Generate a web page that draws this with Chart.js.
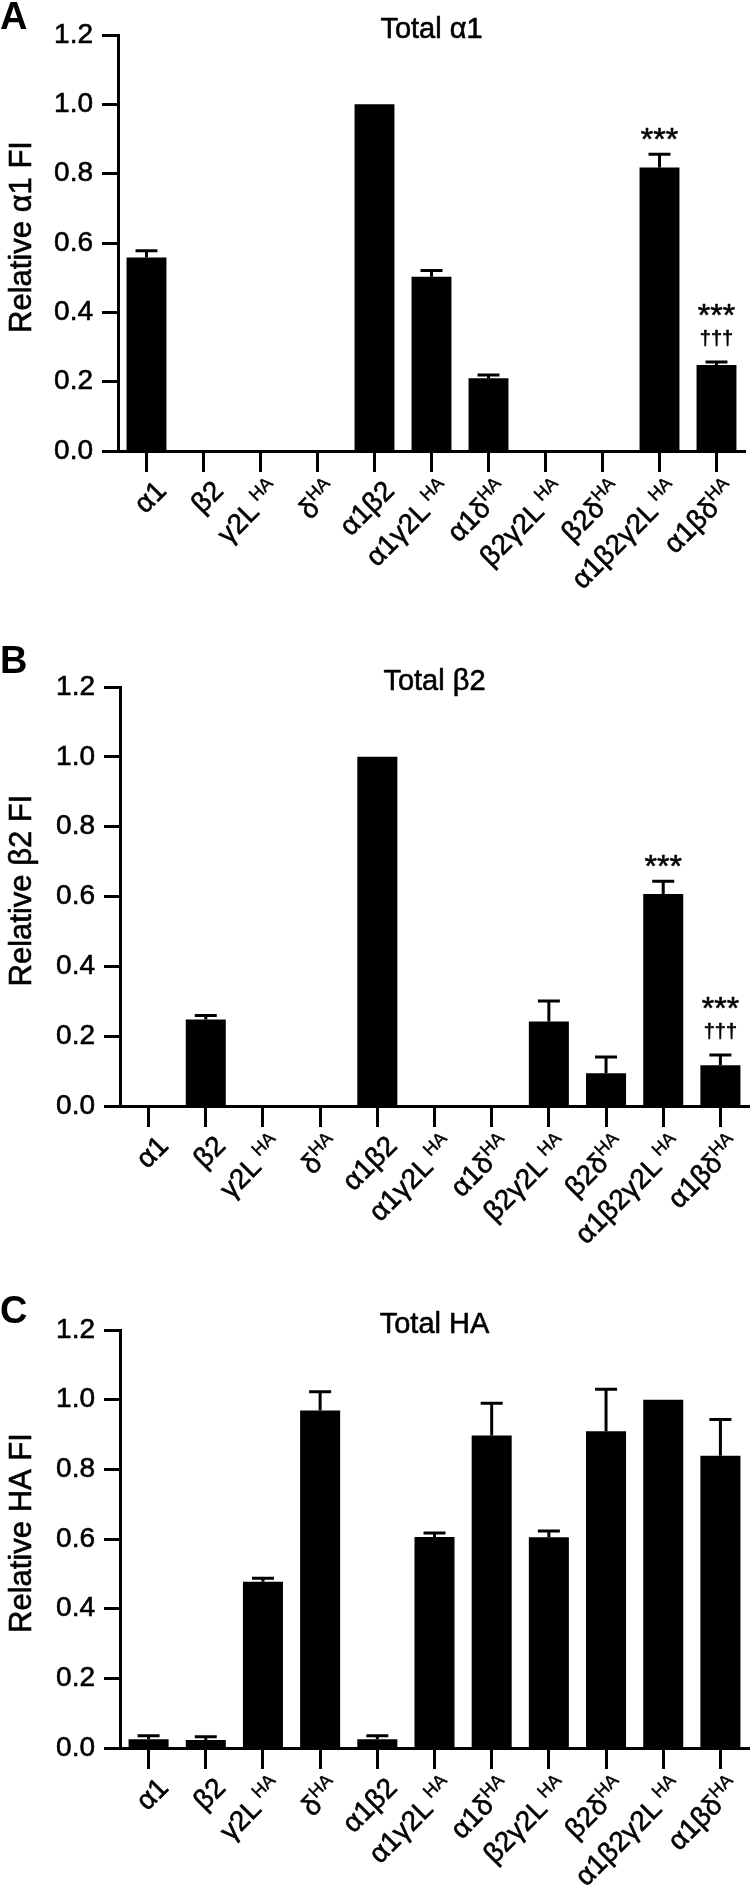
<!DOCTYPE html>
<html>
<head>
<meta charset="utf-8">
<script src="https://cdn.jsdelivr.net/npm/chart.js@4.4.1/dist/chart.umd.min.js"></script>
<style>
  html, body { margin: 0; padding: 0; background: #fff; }
  body { width: 750px; height: 1893px; overflow: hidden; position: relative; }
  .panel { position: absolute; left: 0; width: 750px; }
</style>
</head>
<body>
<div class="panel" id="boxA"><canvas id="chartA"></canvas></div>
<div class="panel" id="boxB"><canvas id="chartB"></canvas></div>
<div class="panel" id="boxC"><canvas id="chartC"></canvas></div>
<script>
// categories, drawn as main text + superscript
const categories = ['α1', 'β2', 'γ2L', 'δ', 'α1β2', 'α1γ2L', 'α1δ', 'β2γ2L', 'β2δ', 'α1β2γ2L', 'α1βδ'];
const superscripts = ['', '', ' HA', 'HA', '', ' HA', 'HA', ' HA', 'HA', ' HA', 'HA'];

// y axis ticks
const yMin = 0, yMax = 1.2, yStep = 0.2;

// Total α1
const alpha1Mean = [0.558, 0, 0, 0, 1.0, 0.503, 0.210, 0, 0, 0.818, 0.248];
const alpha1Sem  = [0.020, 0, 0, 0, 0, 0.018, 0.009, 0, 0, 0.038, 0.009];
const alpha1Stars   = ['', '', '', '', '', '', '', '', '', '***', '***'];
const alpha1Daggers = ['', '', '', '', '', '', '', '', '', '', '†††'];

// Total β2
const beta2Mean = [0, 0.248, 0, 0, 1.0, 0, 0, 0.242, 0.094, 0.607, 0.117];
const beta2Sem  = [0, 0.011, 0, 0, 0, 0, 0, 0.059, 0.046, 0.037, 0.029];
const beta2Stars   = ['', '', '', '', '', '', '', '', '', '***', '***'];
const beta2Daggers = ['', '', '', '', '', '', '', '', '', '', '†††'];

// Total HA
const haMean = [0.025, 0.023, 0.477, 0.969, 0.025, 0.606, 0.897, 0.605, 0.909, 1.0, 0.839];
const haSem  = [0.010, 0.009, 0.010, 0.054, 0.010, 0.011, 0.093, 0.018, 0.121, 0, 0.104];
const haStars   = ['', '', '', '', '', '', '', '', '', '', ''];
const haDaggers = ['', '', '', '', '', '', '', '', '', '', ''];

const FONT = '"Liberation Sans", Arial, Helvetica, sans-serif';
const X_AXIS_H = 170;
const STROKE = 0.6;

const panels = [
  { id: 'chartA', box: 'boxA', letter: 'A', title: 'Total α1', yTitle: 'Relative α1 FI',
    mean: alpha1Mean, sem: alpha1Sem, stars: alpha1Stars, daggers: alpha1Daggers,
    top: 0, padTop: 35, plotH: 416, left: 118, right: 745, letterBase: 29 },
  { id: 'chartB', box: 'boxB', letter: 'B', title: 'Total β2', yTitle: 'Relative β2 FI',
    mean: beta2Mean, sem: beta2Sem, stars: beta2Stars, daggers: beta2Daggers,
    top: 640, padTop: 47, plotH: 419, left: 120, right: 749, letterBase: 33 },
  { id: 'chartC', box: 'boxC', letter: 'C', title: 'Total HA', yTitle: 'Relative HA FI',
    mean: haMean, sem: haSem, stars: haStars, daggers: haDaggers,
    top: 1283, padTop: 47, plotH: 418, left: 120, right: 749, letterBase: 40 }
];

function solidText(ctx, text, x, y) {
  ctx.fillText(text, x, y);
  ctx.strokeText(text, x, y);
}

// error bars, significance marks, rotated tick labels, titles and letter
const decor = {
  id: 'decor',
  afterDatasetsDraw(chart, args, opts) {
    const p = opts.panel;
    const ctx = chart.ctx;
    const y = chart.scales.y;
    const meta = chart.getDatasetMeta(0);
    ctx.save();
    ctx.strokeStyle = '#000';
    ctx.fillStyle = '#000';
    ctx.lineJoin = 'round';
    meta.data.forEach((bar, i) => {
      const errPx = y.getPixelForValue(p.mean[i] + p.sem[i]);
      if (p.sem[i] > 0) {
        const cap = bar.width * 0.55;
        ctx.lineWidth = 3;
        ctx.beginPath();
        ctx.moveTo(bar.x, y.getPixelForValue(p.mean[i]));
        ctx.lineTo(bar.x, errPx);
        ctx.moveTo(bar.x - cap / 2, errPx);
        ctx.lineTo(bar.x + cap / 2, errPx);
        ctx.stroke();
      }
      ctx.lineWidth = STROKE;
      ctx.textAlign = 'center';
      ctx.textBaseline = 'alphabetic';
      if (p.daggers[i]) {
        ctx.font = '20px ' + FONT;
        solidText(ctx, p.daggers[i], bar.x, errPx - 17);
        ctx.font = '32px ' + FONT;
        solidText(ctx, p.stars[i], bar.x, errPx - 36);
      } else if (p.stars[i]) {
        ctx.font = '32px ' + FONT;
        solidText(ctx, p.stars[i], bar.x, errPx - 4);
      }
    });
    ctx.restore();
  },
  afterDraw(chart, args, opts) {
    const p = opts.panel;
    const ctx = chart.ctx;
    const x = chart.scales.x;
    const area = chart.chartArea;
    ctx.save();
    ctx.fillStyle = '#000';
    ctx.strokeStyle = '#000';
    ctx.lineJoin = 'round';
    ctx.lineWidth = STROKE;
    // x tick labels rotated 45 degrees with superscripts
    categories.forEach((name, i) => {
      const px = x.getPixelForTick(i);
      const sup = superscripts[i];
      ctx.font = '28px ' + FONT;
      const wMain = ctx.measureText(name).width;
      ctx.font = '18px ' + FONT;
      const wSup = sup ? ctx.measureText(sup).width : 0;
      ctx.save();
      ctx.translate(px + 7, area.bottom + 21 + 6);
      ctx.rotate(-Math.PI / 4);
      ctx.textAlign = 'left';
      ctx.textBaseline = 'alphabetic';
      ctx.font = '28px ' + FONT;
      solidText(ctx, name, -(wMain + wSup), 20);
      if (sup) {
        ctx.font = '18px ' + FONT;
        ctx.lineWidth = STROKE * 0.7;
        solidText(ctx, sup, -wSup, 9);
        ctx.lineWidth = STROKE;
      }
      ctx.restore();
    });
    // y axis title
    ctx.save();
    ctx.translate(22, (area.top + area.bottom) / 2 - 6);
    ctx.rotate(-Math.PI / 2);
    ctx.textAlign = 'center';
    ctx.textBaseline = 'middle';
    ctx.font = '31px ' + FONT;
    solidText(ctx, p.yTitle, 0, 0);
    ctx.restore();
    // panel title
    ctx.textAlign = 'center';
    ctx.textBaseline = 'alphabetic';
    ctx.font = '29px ' + FONT;
    solidText(ctx, p.title, (area.left + area.right) / 2, area.top + 3);
    // panel letter
    ctx.textAlign = 'left';
    ctx.font = 'bold 38px ' + FONT;
    ctx.fillText(p.letter, 0, p.letterBase);
    ctx.restore();
  }
};

panels.forEach(p => {
  const box = document.getElementById(p.box);
  box.style.top = p.top + 'px';
  box.style.height = (p.padTop + p.plotH + X_AXIS_H) + 'px';
  new Chart(document.getElementById(p.id), {
    type: 'bar',
    data: {
      labels: categories.map((c, i) => c + superscripts[i]),
      datasets: [{
        data: p.mean,
        backgroundColor: '#000',
        borderWidth: 0,
        barPercentage: 0.7,
        categoryPercentage: 1.0
      }]
    },
    options: {
      responsive: true,
      maintainAspectRatio: false,
      animation: false,
      layout: { padding: { top: p.padTop, left: 0, right: 750 - p.right, bottom: 0 } },
      plugins: {
        legend: { display: false },
        tooltip: { enabled: false },
        decor: { panel: p }
      },
      scales: {
        x: {
          offset: true,
          grid: { offset: false, drawOnChartArea: false, drawTicks: true, tickLength: 21, tickWidth: 3, tickColor: '#000' },
          border: { display: true, color: '#000', width: 3 },
          ticks: { display: false },
          afterFit: s => { s.height = X_AXIS_H; }
        },
        y: {
          min: yMin,
          max: yMax,
          ticks: {
            stepSize: yStep,
            color: '#000',
            padding: 9,
            textStrokeColor: '#000',
            textStrokeWidth: STROKE,
            font: { family: FONT, size: 28 },
            callback: v => v.toFixed(1)
          },
          grid: { drawOnChartArea: false, tickLength: 16, tickWidth: 3, tickColor: '#000' },
          border: { display: true, color: '#000', width: 3 },
          afterFit: s => { s.width = p.left; }
        }
      }
    },
    plugins: [decor]
  });
});
</script>
</body>
</html>
